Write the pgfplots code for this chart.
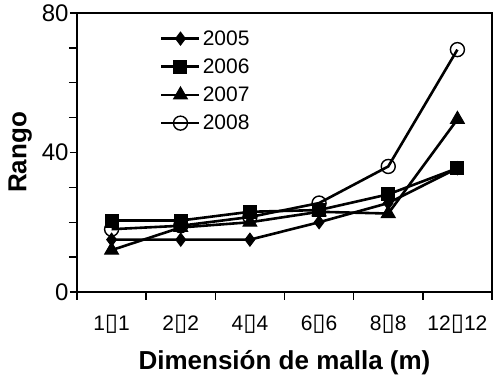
\documentclass[border=0pt]{standalone}
\usepackage{fontspec}
\setmainfont{Liberation Sans}
\newfontfamily\dejavu{DejaVu Sans}
\usepackage{pgfplots}
\pgfplotsset{compat=1.18}
\newcommand{\bx}{{\dejavu\fontsize{24}{20}\selectfont ▯}}
\begin{document}
\begin{tikzpicture}
\path[use as bounding box] (-77pt,-90pt) rectangle (422pt,292pt);
\begin{axis}[
  at={(0pt,0pt)}, anchor=south west,
  scale only axis, width=415pt, height=279pt,
  xmin=0.5, xmax=6.5, ymin=0, ymax=80,
  xtick={1,2,3,4,5,6},
  xticklabels={1\bx1,2\bx2,4\bx4,6\bx6,8\bx8,12\bx12},
  minor xtick={0.5,1.5,2.5,3.5,4.5,5.5,6.5},
  ytick={0,40,80},
  minor ytick={10,20,30,50,60,70},
  tick align=outside, tick pos=left,
  major tick length=7pt, minor tick length=8pt,
  tick style={line width=1.4pt, black},
  major x tick style={draw=none},
  /pgf/number format/assume math mode=true,
  tick label style={font=\fontsize{21}{24}\selectfont},
  yticklabel style={font=\fontsize{24}{26}\selectfont, xshift=2pt},
  xticklabel style={yshift=-13pt},
  axis line style={line width=1.6pt},
  xlabel={\textbf{Dimensión de malla (m)}},
  ylabel={\textbf{Rango}},
  label style={font=\fontsize{26}{30}\selectfont},
  xlabel style={yshift=-10pt},
  ylabel style={yshift=3pt},
  legend style={draw=none, fill=none, at={(0.2,0.945)}, anchor=north west,
    font=\fontsize{21}{24}\selectfont, row sep=8pt, inner sep=0pt},
  legend cell align=left,
  legend image code/.code={
    \draw[mark repeat=2,mark phase=2,#1] plot coordinates {(0pt,0pt) (19pt,0pt) (38pt,0pt)};
  },
]
\addplot[black, line width=2.6pt, mark=diamond*, mark size=6.5pt, mark options={fill=black, line width=1pt}] coordinates {(1,15) (2,15) (3,15) (4,20) (5,25.5) (6,35.5)};
\addlegendentry{2005}
\addplot[black, line width=2.6pt, mark=square*, mark size=6.5pt, mark options={fill=black, line width=1pt}] coordinates {(1,20.5) (2,20.5) (3,23) (4,23.5) (5,28) (6,35.5)};
\addlegendentry{2006}
\addplot[black, line width=2.6pt, mark=triangle*, mark size=8pt, mark options={fill=black, line width=1pt}] coordinates {(1,12) (2,18.5) (3,20) (4,23) (5,22.5) (6,49.5)};
\addlegendentry{2007}
\addplot[black, line width=2.6pt, mark=o, mark size=7pt, mark options={fill=white, line width=1.4pt}] coordinates {(1,18) (2,19) (3,21.5) (4,25.5) (5,36) (6,69.5)};
\addlegendentry{2008}
\end{axis}
\end{tikzpicture}
\end{document}
